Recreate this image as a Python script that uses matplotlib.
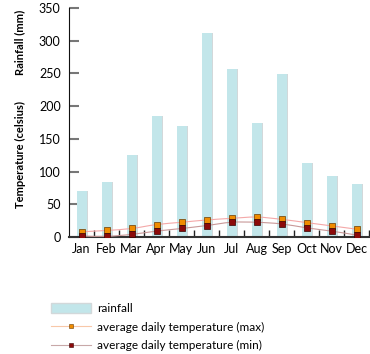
import numpy as np
import matplotlib
matplotlib.use("Agg")
import matplotlib.pyplot as plt
from matplotlib.path import Path
from matplotlib.patches import PathPatch, Patch
from matplotlib.lines import Line2D

months = ["Jan", "Feb", "Mar", "Apr", "May", "Jun", "Jul", "Aug", "Sep", "Oct", "Nov", "Dec"]
rainfall = [71, 84, 125, 185, 170, 312, 257, 175, 249, 113, 93, 81]
temp_max = [8, 10, 13, 19, 22.5, 26, 28.5, 30.5, 27, 22, 17, 12]
temp_min = [1.5, 1, 4, 9, 13, 17.5, 22.5, 22.5, 20, 14, 9, 3]

BAR = "#c2e6ea"
MAXC = "#f08c00"
MINC = "#8c0a0a"

plt.rcParams['font.family'] = ['Lato', 'DejaVu Sans']


def smooth_path(x, y):
    # catmull-rom control points -> bezier path
    verts = [(x[0], y[0])]
    codes = [Path.MOVETO]
    n = len(x)
    for i in range(n - 1):
        x0, y0 = (x[i - 1], y[i - 1]) if i > 0 else (x[i], y[i])
        x1, y1 = x[i], y[i]
        x2, y2 = x[i + 1], y[i + 1]
        x3, y3 = (x[i + 2], y[i + 2]) if i + 2 < n else (x2, y2)
        verts += [(x1 + (x2 - x0) / 6, y1 + (y2 - y0) / 6),
                  (x2 - (x3 - x1) / 6, y2 - (y3 - y1) / 6),
                  (x2, y2)]
        codes += [Path.CURVE4] * 3
    return Path(verts, codes)


fig = plt.figure(figsize=(3.7, 3.54), dpi=100)
ax = fig.add_axes([69 / 370, 117 / 354, 300 / 370, 229 / 354])

x = np.arange(len(months))
ax.bar(x + 0.04, rainfall, width=0.42, color="#d2d8da", zorder=1)
ax.bar(x, rainfall, width=0.4, color=BAR, zorder=2)

ax.add_patch(PathPatch(smooth_path(x, temp_max), fill=False, edgecolor="#f4a8a8", lw=0.8, zorder=3))
ax.add_patch(PathPatch(smooth_path(x, temp_min), fill=False, edgecolor="#c89898", lw=0.8, zorder=3))
ax.plot(x, temp_max, ls="none", marker="s", ms=4.5, mfc=MAXC, mec="#6a3a00", mew=0.5, zorder=4)
ax.plot(x, temp_min, ls="none", marker="s", ms=4.5, mfc=MINC, mec="#3a0000", mew=0.5, zorder=4)

ax.set_xlim(-0.5, 11.5)
ax.set_ylim(0, 350)
ax.set_yticks(range(0, 351, 50))
ax.set_xticks(x)
ax.set_xticklabels(months, fontsize=9)
ax.set_xticks(np.arange(0.5, 12, 1), minor=True)
ax.tick_params(axis='x', which='major', length=0, pad=4)
ax.tick_params(axis='x', which='minor', direction='in', length=5, width=1, color="#222222")
ax.tick_params(axis='y', direction='in', length=7, width=1.5, color="#777777", labelsize=9, pad=6)

for s in ["top", "right"]:
    ax.spines[s].set_visible(False)
ax.spines["left"].set_color("#111111")
ax.spines["bottom"].set_color("#333333")
ax.spines["bottom"].set_linewidth(1.5)

fig.text(20 / 370, 1 - 42 / 354, "Rainfall (mm)", rotation=90, ha="center", va="center",
         fontsize=8, fontweight="bold")
fig.text(20 / 370, 1 - 155 / 354, "Temperature (celsius)", rotation=90, ha="center", va="center",
         fontsize=8, fontweight="bold")

handles = [
    Patch(facecolor=BAR, edgecolor="#d2d8da"),
    Line2D([], [], color="#f8c8a8", lw=0.8, marker="s", ms=3.5, mfc=MAXC, mec="#6a3a00", mew=0.4),
    Line2D([], [], color="#c8a8a8", lw=0.8, marker="s", ms=3.5, mfc=MINC, mec="#3a0000", mew=0.4),
]
labels = ["rainfall", "average daily temperature (max)", "average daily temperature (min)"]
fig.legend(handles, labels, loc="upper left", bbox_to_anchor=(40 / 370, 1 - 292 / 354),
           frameon=False, fontsize=8.5, handlelength=3.4, handleheight=1.0,
           handletextpad=0.5, labelspacing=0.62)

fig.savefig("out.png", dpi=100)
